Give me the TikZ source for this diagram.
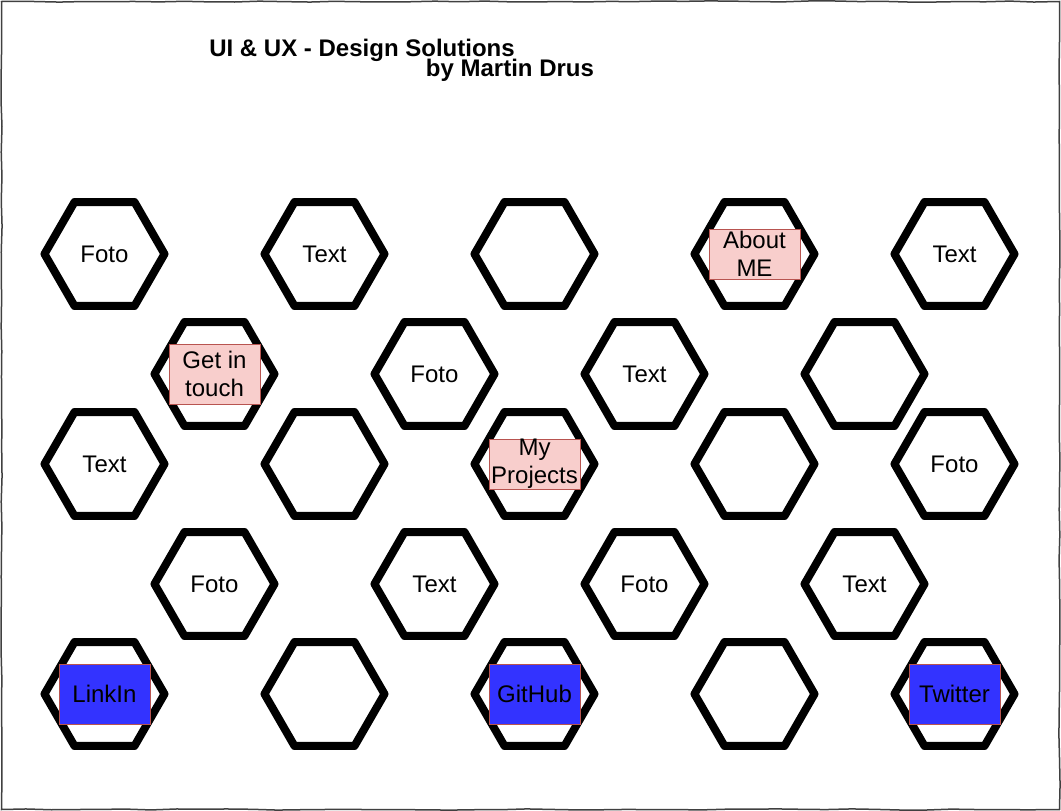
\documentclass[tikz,border=0pt]{standalone}
\usepackage{fontspec}
\setmainfont{Liberation Sans}
\usetikzlibrary{shapes.geometric,decorations.pathmorphing}

\definecolor{pinkfill}{HTML}{F8CECC}
\definecolor{pinkline}{HTML}{B85450}
\definecolor{bluefill}{HTML}{3333FF}

\begin{document}
\begin{tikzpicture}[x=1pt, y=-1pt,
    hexa/.style={regular polygon, regular polygon sides=6, minimum size=120pt,
        inner sep=0pt, draw, line width=8pt, line join=round,
        font=\fontsize{24}{28}\selectfont},
    pinkbox/.style={draw=pinkline, fill=pinkfill, line width=0.8pt, minimum width=91pt,
        align=center, inner sep=0pt, font=\fontsize{24}{28}\selectfont},
    bluebox/.style={draw=pinkline, fill=bluefill, line width=0.8pt, minimum width=91pt,
        minimum height=60pt, inner sep=0pt, font=\fontsize{24}{28}\selectfont}]
    \useasboundingbox (0,0) rectangle (1061,811);
    \draw[black!75, line width=1.5pt, decorate,
          decoration={random steps, segment length=25pt, amplitude=0.6pt}]
        (1.5,1.5) rectangle (1059.5,809.5);

    \node[font=\bfseries\fontsize{24}{28}\selectfont] (title) at (362,50) {UI \& UX - Design Solutions};
    \node[font=\bfseries\fontsize{24}{28}\selectfont] (author) at (510,70) {by Martin Drus};

    % first row
    \node[hexa] (h11) at (104.5,254) {Foto};
    \node[hexa] (h12) at (324.5,254) {Text};
    \node[hexa] (h13) at (534.5,254) {};
    \node[hexa] (h14) at (754.5,254) {};
    \node[hexa] (h15) at (954.5,254) {Text};

    % second row
    \node[hexa] (h21) at (214.5,374) {};
    \node[hexa] (h22) at (434.5,374) {Foto};
    \node[hexa] (h23) at (644.5,374) {Text};
    \node[hexa] (h24) at (864.5,374) {};

    % third row
    \node[hexa] (h31) at (104.5,464) {Text};
    \node[hexa] (h32) at (324.5,464) {};
    \node[hexa] (h33) at (534.5,464) {};
    \node[hexa] (h34) at (754.5,464) {};
    \node[hexa] (h35) at (954.5,464) {Foto};

    % fourth row
    \node[hexa] (h41) at (214.5,584) {Foto};
    \node[hexa] (h42) at (434.5,584) {Text};
    \node[hexa] (h43) at (644.5,584) {Foto};
    \node[hexa] (h44) at (864.5,584) {Text};

    % fifth row
    \node[hexa] (h51) at (104.5,694) {};
    \node[hexa] (h52) at (324.5,694) {};
    \node[hexa] (h53) at (534.5,694) {};
    \node[hexa] (h54) at (754.5,694) {};
    \node[hexa] (h55) at (954.5,694) {};

    % menu boxes
    \node[pinkbox, minimum height=50pt] (about) at (h14) {About\\ME};
    \node[pinkbox, minimum height=60pt] (touch) at (h21) {Get in\\touch};
    \node[pinkbox, minimum height=50pt] (projects) at (h33) {My\\Projects};

    \node[bluebox] (linkin) at (h51) {LinkIn};
    \node[bluebox] (github) at (h53) {GitHub};
    \node[bluebox] (twitter) at (h55) {Twitter};
\end{tikzpicture}
\end{document}
